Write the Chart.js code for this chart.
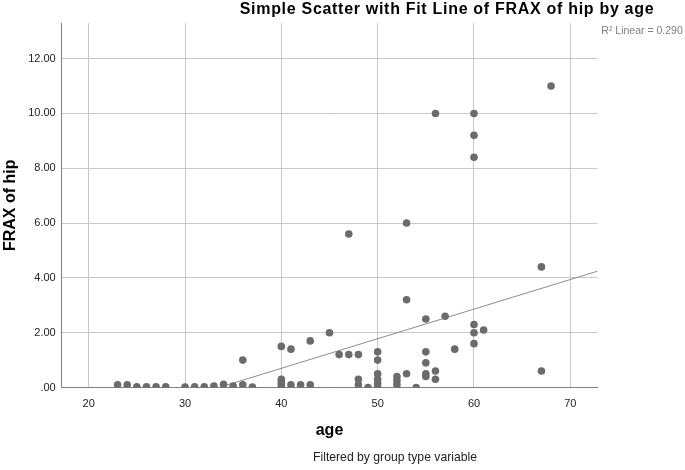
<!DOCTYPE html>
<html>
<head>
<meta charset="utf-8">
<script src="https://cdn.jsdelivr.net/npm/chart.js@4.4.1/dist/chart.umd.min.js"></script>
<style>
  html, body { margin: 0; padding: 0; background: #fff; }
  #wrap { position: relative; width: 685px; height: 470px; }
</style>
</head>
<body>
<div id="wrap"><canvas id="chart" width="685" height="470"></canvas></div>
<script>
// values
const ages = [23, 24, 25, 26, 27, 28, 30, 31, 32, 33, 34, 35, 36, 36, 37,
    40, 40, 40, 40, 40, 41, 41, 42, 43, 43, 45, 46, 47, 47, 48, 48, 48, 49,
    50, 50, 50, 50, 50, 50, 52, 52, 52, 53, 53, 53, 54, 55, 55, 55, 55, 55,
    56, 56, 56, 57, 58, 60, 60, 60, 60, 60, 60, 61, 67, 67, 68];
const fraxHip = [0.1, 0.1, 0.03, 0.03, 0.03, 0.03, 0.02, 0.03, 0.03, 0.05, 0.12, 0.05, 0.1, 1.0, 0.02,
    0, 0.1, 0.2, 0.3, 1.5, 0.1, 1.4, 0.1, 0.1, 1.7, 2.0, 1.2, 1.2, 5.6, 1.2, 0.3, 0.1, 0,
    1.3, 1.0, 0.5, 0.3, 0.15, 0, 0.4, 0.25, 0.1, 0.5, 3.2, 6.0, 0, 2.5, 1.3, 0.9, 0.5, 0.4,
    0.6, 0.3, 10.0, 2.6, 1.4, 2.3, 2.0, 1.6, 8.4, 9.2, 10.0, 2.1, 4.4, 0.6, 11.0];

// fit line
const fitSlope = 0.108;
const fitIntercept = -3.62;
const rSquaredText = "R\u00B2 Linear = 0.290";

const xMin = 17.2, xMax = 72.8;
const yMin = 0, yMax = 13.3;

const FONT = "Arial, 'Liberation Sans', sans-serif";

const points = ages.map((a, i) => ({ x: a, y: fraxHip[i] }));
const fitLine = [xMin, xMax].map(x => ({ x, y: fitIntercept + fitSlope * x }));

// extra texts: title, R² note, filter footnote
const textsPlugin = {
    id: 'spssTexts',
    afterDraw(chart) {
        const ctx = chart.ctx;
        const area = chart.chartArea;
        ctx.save();
        ctx.textBaseline = 'middle';

        ctx.fillStyle = '#000';
        ctx.textAlign = 'center';
        ctx.font = `bold 16px ${FONT}`;
        ctx.letterSpacing = '0.7px';
        ctx.fillText("Simple Scatter with Fit Line of FRAX of hip by age", 447, 10);
        ctx.letterSpacing = '0px';

        ctx.fillStyle = '#808080';
        ctx.textAlign = 'left';
        ctx.font = `10.5px ${FONT}`;
        ctx.fillText(rSquaredText, area.right + 4, 31);

        ctx.fillStyle = '#222';
        ctx.textAlign = 'center';
        ctx.font = `12.2px ${FONT}`;
        ctx.fillText("Filtered by group type variable", 395, 458);
        ctx.restore();
    }
};

new Chart(document.getElementById('chart'), {
    type: 'scatter',
    data: {
        datasets: [
            {
                label: 'FRAX of hip',
                data: points,
                backgroundColor: '#6b6b6b',
                borderWidth: 0,
                pointRadius: 3.8,
                pointHoverRadius: 3.8
            },
            {
                label: 'Fit',
                data: fitLine,
                showLine: true,
                borderColor: '#8c8c8c',
                borderWidth: 1,
                pointRadius: 0,
                clip: 0
            }
        ]
    },
    options: {
        responsive: false,
        animation: false,
        layout: { padding: { top: 23, right: 87.7, bottom: 0, left: 0 } },
        plugins: {
            legend: { display: false },
            tooltip: { enabled: false },
            title: { display: false }
        },
        scales: {
            x: {
                type: 'linear',
                min: xMin,
                max: xMax,
                afterFit(scale) { scale.height = 82.5; },
                border: { display: true, color: '#808080', width: 1 },
                grid: { color: '#c8c8c8', drawTicks: false },
                ticks: {
                    stepSize: 10,
                    includeBounds: false,
                    padding: 10,
                    color: '#222',
                    font: { family: FONT, size: 11 }
                },
                title: {
                    display: true,
                    text: 'age',
                    color: '#000',
                    font: { family: FONT, size: 16, weight: 'bold' },
                    padding: { top: 0, bottom: 29.4 }
                }
            },
            y: {
                type: 'linear',
                min: yMin,
                max: yMax,
                afterFit(scale) { scale.width = 61.7; },
                border: { display: true, color: '#808080', width: 1 },
                grid: { color: '#c8c8c8', drawTicks: false },
                ticks: {
                    stepSize: 2,
                    includeBounds: false,
                    padding: 6,
                    color: '#222',
                    font: { family: FONT, size: 11 },
                    callback: v => v === 0 ? '.00' : v.toFixed(2)
                },
                title: {
                    display: true,
                    text: 'FRAX of hip',
                    color: '#000',
                    font: { family: FONT, size: 16, weight: 'bold' },
                    padding: { top: 1, bottom: 0 }
                }
            }
        }
    },
    plugins: [textsPlugin]
});
</script>
</body>
</html>
